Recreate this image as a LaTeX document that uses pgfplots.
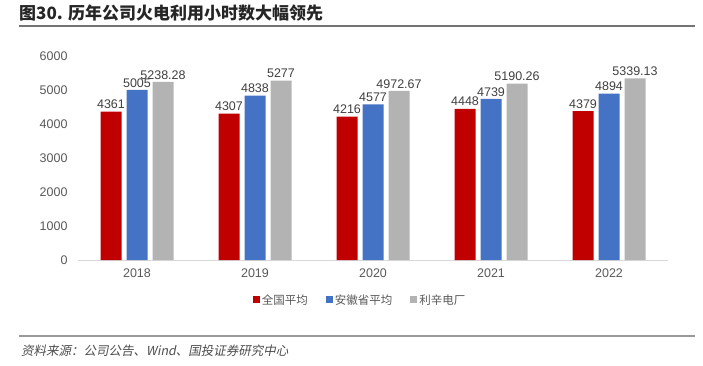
\documentclass[border=0pt]{standalone}
\usepackage{pgfplots}
\pgfplotsset{compat=1.18}
\usepackage{fontspec}
\setmainfont{Liberation Sans}
\newfontfamily\cjk{Noto Sans CJK SC}
\newfontfamily\cjkit[FakeSlant=0.2]{Noto Sans CJK SC}
\definecolor{cRed}{HTML}{C00000}
\definecolor{cBlue}{HTML}{4472C4}
\definecolor{cGray}{HTML}{B3B3B3}
\begin{document}
\begin{tikzpicture}[x=1pt,y=1pt]
\useasboundingbox (0,0) rectangle (703,365);
\node[anchor=west, inner sep=0pt, font=\cjk\bfseries\fontsize{17}{20}\selectfont, text=black!85] at (19,352) {图30. 历年公司火电利用小时数大幅领先};
\draw[black!55, line width=1.5pt] (19,339) -- (695,339);
\draw[black!40, line width=1.2pt] (19,29) -- (695,29);
\node[anchor=west, inner sep=0pt, font=\cjkit\fontsize{12.5}{14}\selectfont, text=black!70] at (21,14) {资料来源：公司公告、Wind、国投证券研究中心};
\begin{axis}[
 scale only axis, width=590pt, height=204pt,
 at={(78pt,105pt)}, anchor=south west,
 xmin=-0.5, xmax=4.5, ymin=0, ymax=6000,
 ybar=5pt, bar width=21pt,
 xtick={0,1,2,3,4}, xticklabels={2018,2019,2020,2021,2022},
 ytick={0,1000,...,6000},
 axis x line*=bottom, axis y line*=left,
 y axis line style={draw=none},
 x axis line style={draw=black!15, line width=1pt},
 major tick length=0pt,
 tick label style={font=\fontsize{12.5}{14}\selectfont, text=black!65},
 yticklabel style={xshift=-7pt},
 xticklabel style={yshift=-5pt},
 /pgf/number format/assume math mode=true,
 /pgf/number format/1000 sep={},
 /pgf/number format/fixed,
 /pgf/number format/precision=2,
 nodes near coords,
 every node near coord/.append style={font=\fontsize{12.5}{14}\selectfont, text=black!75, inner sep=2.5pt},
 legend style={at={(0.478,-0.196)}, anchor=center, draw=none, legend columns=3,
   font=\cjk\fontsize{11.5}{14}\selectfont, text=black!65,
   /tikz/every even column/.append style={column sep=16pt}},
 legend image code/.code={\fill[#1] (0pt,-3.5pt) rectangle (7pt,3.5pt);},
]
\addplot[fill=cRed, draw=none] coordinates {(0,4361)(1,4307)(2,4216)(3,4448)(4,4379)};
\addplot[fill=cBlue, draw=none] coordinates {(0,5005)(1,4838)(2,4577)(3,4739)(4,4894)};
\addplot[fill=cGray, draw=none] coordinates {(0,5238.28)(1,5277)(2,4972.67)(3,5190.26)(4,5339.13)};
\legend{全国平均,安徽省平均,利辛电厂}
\end{axis}
\end{tikzpicture}
\end{document}
